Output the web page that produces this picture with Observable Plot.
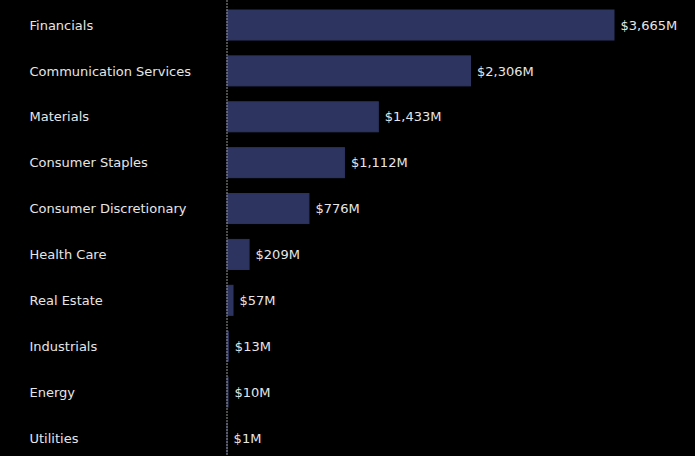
<!DOCTYPE html>
<html>
<head>
<meta charset="utf-8">
<script src="https://cdn.jsdelivr.net/npm/d3@7"></script>
<script src="https://cdn.jsdelivr.net/npm/@observablehq/plot@0.6"></script>
<style>
  html, body { margin: 0; padding: 0; background: #000; }
</style>
</head>
<body>
<div id="chart"></div>
<script>
const sectors = ["Financials", "Communication Services", "Materials", "Consumer Staples", "Consumer Discretionary", "Health Care", "Real Estate", "Industrials", "Energy", "Utilities"];
const values = [3665, 2306, 1433, 1112, 776, 209, 57, 13, 10, 1];

const data = sectors.map((s, i) => ({sector: s, value: values[i]}));
const fmt = v => "$" + d3.format(",")(v) + "M";

const chart = Plot.plot({
  width: 695,
  height: 456,
  marginLeft: 227,
  marginRight: 81,
  marginTop: 10,
  marginBottom: 3,
  style: {background: "#000", color: "#e6e6e6", fontFamily: "DejaVu Sans", fontSize: "13px"},
  x: {domain: [0, 3665], axis: null},
  y: {domain: sectors, axis: null, paddingInner: 0.346, paddingOuter: 0, round: false},
  marks: [
    Plot.barX(data, {y: "sector", x: "value", fill: "#2d3460", stroke: "#2d3460", strokeWidth: 1}),
    Plot.ruleX([0], {stroke: "#9a9a9a", strokeDasharray: "2,1", strokeWidth: 1, dx: -0.5, insetTop: -10, insetBottom: -3}),
    Plot.text(data, {y: "sector", text: "sector", frameAnchor: "left", dx: -198, textAnchor: "start", fill: "#e6e6e6", fontSize: 13}),
    Plot.text(data, {y: "sector", x: "value", text: d => fmt(d.value), dx: 6, textAnchor: "start", fill: "#e6e6e6", fontSize: 13})
  ]
});
document.getElementById("chart").appendChild(chart);
</script>
</body>
</html>
